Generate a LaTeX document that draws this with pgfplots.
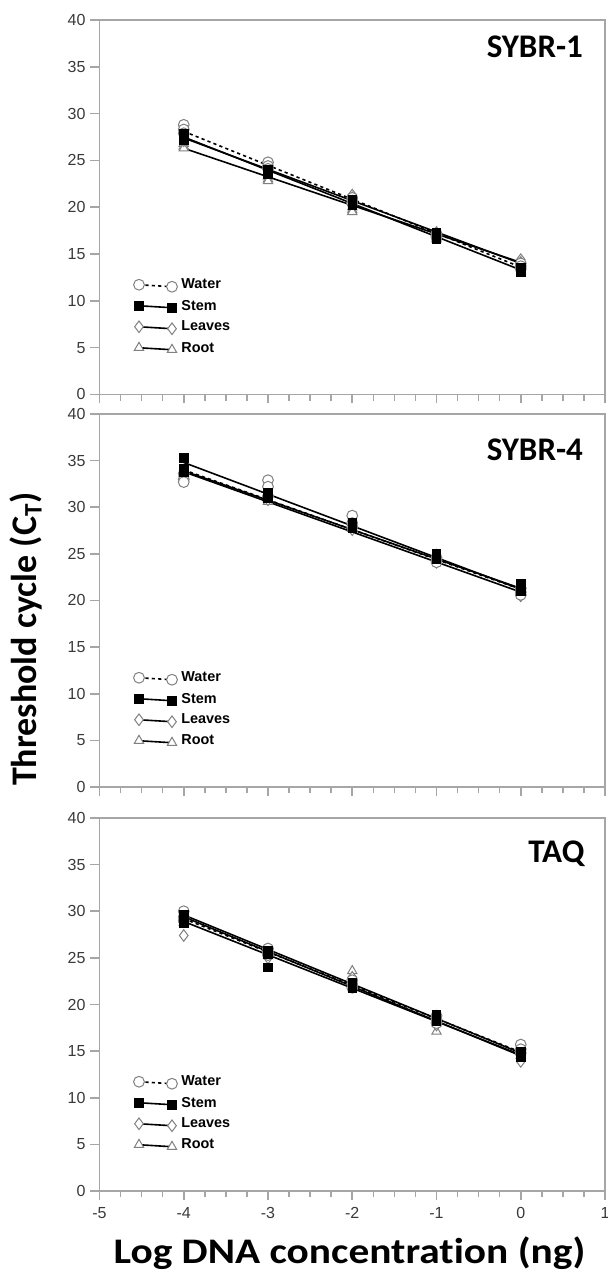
\documentclass[border=0pt]{standalone}
\usepackage{fontspec}
\setmainfont{Liberation Sans}
\newfontfamily\calib[Ligatures=NoCommon]{Carlito}
\usepackage{pgfplots}
\pgfplotsset{compat=1.18}

\definecolor{axgray}{HTML}{A6A6A6}
\definecolor{mkgray}{HTML}{808080}
\definecolor{lbgray}{HTML}{3A3A3A}

\tikzset{
  mkwater/.style={mark=*, mark size=2.7pt, mark options={solid, draw=mkgray, fill=white, line width=0.5pt}},
  mkstem/.style={mark=square*, mark size=2.1pt, mark options={solid, draw=black, fill=black}},
  mkleaves/.style={mark=diamond*, mark size=2.9pt, mark options={solid, draw=mkgray, fill=white, line width=0.5pt}},
  mkroot/.style={mark=triangle*, mark size=2.7pt, mark options={solid, draw=mkgray, fill=white, line width=0.5pt}},
  lnwater/.style={black, line width=0.8pt, dash pattern=on 1.6pt off 1.6pt},
  lnsolid/.style={black, line width=0.8pt},
  ctitle/.style={anchor=base east, inner sep=0pt,
    font=\calib\bfseries\fontsize{16.5}{17}\selectfont},
}

\pgfplotsset{
  ctpanel/.style={
    scale only axis, width=252.75pt, height=186.5pt,
    xmin=-5, xmax=1, ymin=0, ymax=40,
    axis line style={axgray, line width=0.9pt},
    xtick={-5,-4,-3,-2,-1,0,1}, minor x tick num=3,
    ytick={0,5,10,15,20,25,30,35,40},
    yticklabels={0,5,10,15,20,25,30,35,40},
    xtick pos=left, ytick pos=left,
    tick align=outside,
    major tick length=4.5pt, minor tick length=3.2pt,
    every tick/.style={axgray, line width=0.8pt},
    tick label style={font=\fontsize{8}{9}\selectfont, text=lbgray},
    yticklabel style={xshift=1pt},
    clip=false,
    legend image code/.code={
      \draw[##1] plot coordinates {(0pt,0.4pt) (16.5pt,-0.6pt)};
    },
    legend style={at={(axis cs:-4.6,12.8)}, anchor=north west,
      draw=none, fill=none, inner sep=0pt, row sep=0pt, column sep=1pt,
      nodes={inner sep=1pt, minimum height=10.5pt,
        font=\fontsize{7.2}{8}\selectfont\bfseries, text=black},
      cells={anchor=west}},
  },
}

\begin{document}
\begin{tikzpicture}
\path[use as bounding box] (-49.75pt,-41pt) rectangle (254.25pt,595.5pt);

% ---------------- SYBR-1 ----------------
\begin{axis}[ctpanel, at={(0pt,398.25pt)}, height=187.25pt, xticklabels={}]
  \addlegendimage{lnwater, mkwater}\addlegendentry{Water}
  \addlegendimage{lnsolid, mkstem}\addlegendentry{Stem}
  \addlegendimage{lnsolid, mkleaves}\addlegendentry{Leaves}
  \addlegendimage{lnsolid, mkroot}\addlegendentry{Root}
  \addplot[only marks, mkroot, forget plot] coordinates {
    (-4,26.8) (-4,26.5) (-4,26.3) (-3,23.3) (-3,23.0) (-3,22.8)
    (-2,20.0) (-2,19.7) (-2,19.5) (-1,17.0) (-1,16.8) (-1,16.6)
    (0,14.2) (0,14.0) (0,13.8)};
  \addplot[only marks, mkleaves, forget plot] coordinates {
    (-4,27.8) (-4,27.4) (-4,27.1) (-3,24.3) (-3,24.0) (-3,23.7)
    (-2,21.3) (-2,21.0) (-2,20.6) (-1,17.3) (-1,17.0) (-1,16.8)
    (0,14.4) (0,14.1) (0,13.8)};
  \addplot[only marks, mkwater, forget plot] coordinates {
    (-4,28.8) (-4,28.3) (-4,27.9) (-3,24.8) (-3,24.4) (-3,24.1)
    (-2,21.0) (-2,20.7) (-2,20.4) (-1,17.2) (-1,17.0) (-1,16.8)
    (0,14.0) (0,13.7) (0,13.4)};
  \addplot[only marks, mkstem, forget plot] coordinates {
    (-4,27.9) (-4,27.5) (-4,27.2) (-3,24.0) (-3,23.7) (-3,23.5)
    (-2,20.8) (-2,20.5) (-2,20.2) (-1,17.3) (-1,16.9) (-1,16.6)
    (0,13.6) (0,13.3) (0,13.1)};
  \addplot[lnsolid, forget plot] coordinates {(-4,26.3) (0,14.1)};
  \addplot[lnsolid, forget plot] coordinates {(-4,27.4) (0,14.0)};
  \addplot[lnsolid, forget plot] coordinates {(-4,27.5) (0,13.3)};
  \addplot[lnwater, forget plot] coordinates {(-4,28.1) (0,13.6)};
  \node[ctitle] at (rel axis cs:0.957,0.901) {SYBR-1};
\end{axis}

% ---------------- SYBR-4 ----------------
\begin{axis}[ctpanel, at={(0pt,202pt)}, xticklabels={}]
  \addlegendimage{lnwater, mkwater}\addlegendentry{Water}
  \addlegendimage{lnsolid, mkstem}\addlegendentry{Stem}
  \addlegendimage{lnsolid, mkleaves}\addlegendentry{Leaves}
  \addlegendimage{lnsolid, mkroot}\addlegendentry{Root}
  \addplot[only marks, mkroot, forget plot] coordinates {
    (-4,34.0) (-4,33.6) (-4,33.3) (-3,31.4) (-3,30.9) (-3,30.6)
    (-2,28.3) (-2,28.0) (-2,27.7) (-1,24.9) (-1,24.6) (-1,24.3)
    (0,21.5) (0,21.2) (0,20.9)};
  \addplot[only marks, mkleaves, forget plot] coordinates {
    (-4,33.9) (-4,33.4) (-4,33.1) (-3,31.5) (-3,31.1) (-3,30.8)
    (-2,28.2) (-2,27.9) (-2,27.6) (-1,24.6) (-1,24.3) (-1,24.1)
    (0,21.2) (0,20.8) (0,20.5)};
  \addplot[only marks, mkwater, forget plot] coordinates {
    (-4,33.6) (-4,33.0) (-4,32.7) (-3,32.9) (-3,32.2) (-3,31.2)
    (-2,29.1) (-2,28.3) (-2,27.9) (-1,24.6) (-1,24.3) (-1,24.1)
    (0,21.3) (0,20.9) (0,20.6)};
  \addplot[only marks, mkstem, forget plot] coordinates {
    (-4,35.3) (-4,34.1) (-4,33.8) (-3,31.6) (-3,31.3) (-3,31.0)
    (-2,28.4) (-2,28.0) (-2,27.7) (-1,25.0) (-1,24.7) (-1,24.4)
    (0,21.8) (0,21.4) (0,21.0)};
  \addplot[lnsolid, forget plot] coordinates {(-4,33.9) (0,21.3)};
  \addplot[lnsolid, forget plot] coordinates {(-4,33.8) (0,20.9)};
  \addplot[lnsolid, forget plot] coordinates {(-4,34.8) (0,21.2)};
  \addplot[lnwater, forget plot] coordinates {(-4,34.0) (0,21.2)};
  \node[ctitle] at (rel axis cs:0.957,0.874) {SYBR-4};
\end{axis}

% ---------------- TAQ ----------------
\begin{axis}[ctpanel, at={(0pt,0pt)}, xticklabels={-5,-4,-3,-2,-1,0,1}]
  \addlegendimage{lnwater, mkwater}\addlegendentry{Water}
  \addlegendimage{lnsolid, mkstem}\addlegendentry{Stem}
  \addlegendimage{lnsolid, mkleaves}\addlegendentry{Leaves}
  \addlegendimage{lnsolid, mkroot}\addlegendentry{Root}
  \addplot[only marks, mkroot, forget plot] coordinates {
    (-4,29.5) (-4,29.1) (-4,28.8) (-3,25.9) (-3,25.5) (-3,25.2)
    (-2,23.6) (-2,22.8) (-2,22.3) (-1,18.5) (-1,18.0) (-1,17.1)
    (0,15.4) (0,14.9) (0,14.5)};
  \addplot[only marks, mkleaves, forget plot] coordinates {
    (-4,29.3) (-4,28.9) (-4,27.4) (-3,25.7) (-3,25.3) (-3,25.0)
    (-2,22.9) (-2,22.3) (-2,21.9) (-1,18.6) (-1,18.2) (-1,17.8)
    (0,15.3) (0,14.6) (0,13.9)};
  \addplot[only marks, mkwater, forget plot] coordinates {
    (-4,30.0) (-4,29.4) (-4,29.0) (-3,26.0) (-3,25.6) (-3,25.3)
    (-2,22.6) (-2,22.2) (-2,21.8) (-1,18.8) (-1,18.4) (-1,18.0)
    (0,15.7) (0,15.2) (0,14.8)};
  \addplot[only marks, mkstem, forget plot] coordinates {
    (-4,29.6) (-4,29.0) (-4,28.7) (-3,25.8) (-3,25.4) (-3,24.0)
    (-2,22.4) (-2,22.0) (-2,21.7) (-1,18.9) (-1,18.5) (-1,18.2)
    (0,15.0) (0,14.6) (0,14.3)};
  \addplot[lnsolid, forget plot] coordinates {(-4,29.6) (0,14.8)};
  \addplot[lnsolid, forget plot] coordinates {(-4,28.9) (0,14.6)};
  \addplot[lnsolid, forget plot] coordinates {(-4,29.4) (0,14.5)};
  \addplot[lnwater, forget plot] coordinates {(-4,29.2) (0,14.9)};
  \node[ctitle] at (rel axis cs:0.96,0.882) {TAQ};
\end{axis}

\node[rotate=90, anchor=base, inner sep=0pt, font=\calib\bfseries\fontsize{18}{19}\selectfont]
  at (-31.5pt,276pt) {Threshold cycle (C\textsubscript{T})};
\node[anchor=base, inner sep=0pt, transform shape, xscale=1.15,
  font=\calib\bfseries\fontsize{18}{19}\selectfont]
  at (125pt,-36pt) {Log DNA concentration (ng)};
\end{tikzpicture}
\end{document}
